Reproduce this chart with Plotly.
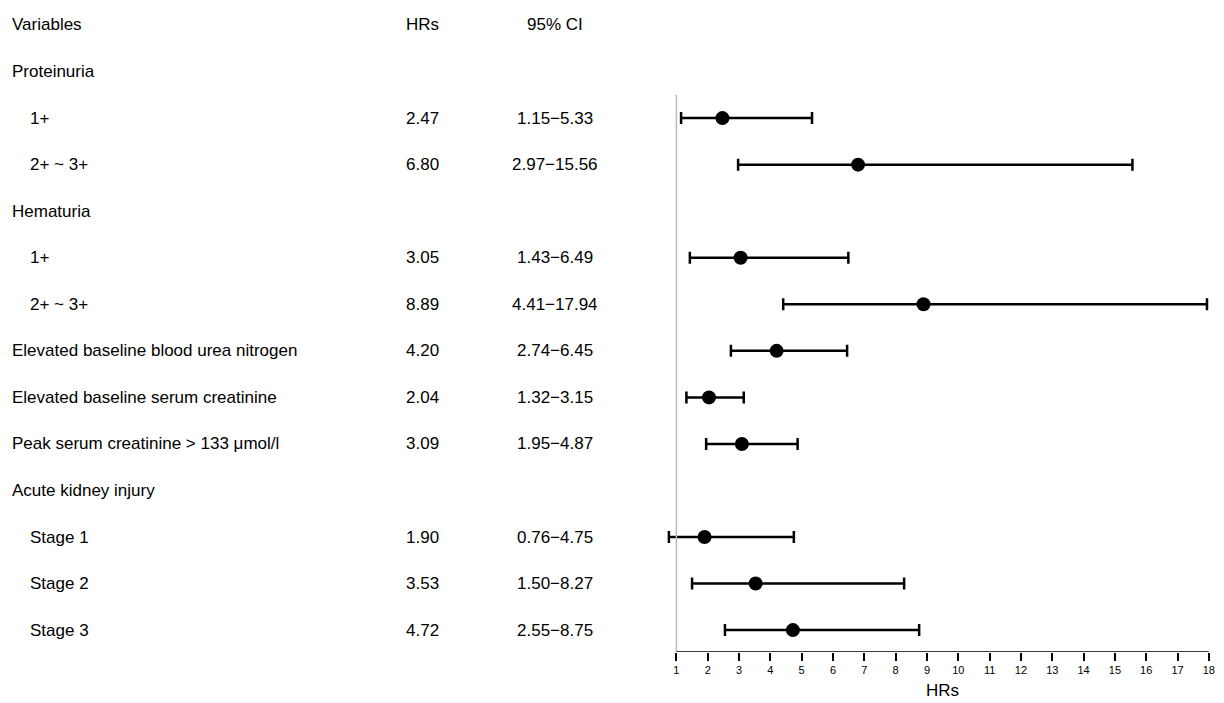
import plotly.graph_objects as go

labels = ["Proteinuria", "1+", "2+ ~ 3+", "Hematuria", "1+", "2+ ~ 3+",
          "Elevated baseline blood urea nitrogen", "Elevated baseline serum creatinine",
          "Peak serum creatinine > 133 μmol/l", "Acute kidney injury",
          "Stage 1", "Stage 2", "Stage 3"]
indent = [False, True, True, False, True, True, False, False, False, False, True, True, True]
hr = [None, 2.47, 6.80, None, 3.05, 8.89, 4.20, 2.04, 3.09, None, 1.90, 3.53, 4.72]
lo = [None, 1.15, 2.97, None, 1.43, 4.41, 2.74, 1.32, 1.95, None, 0.76, 1.50, 2.55]
hi = [None, 5.33, 15.56, None, 6.49, 17.94, 6.45, 3.15, 4.87, None, 4.75, 8.27, 8.75]
ticks = list(range(1, 19))

rows = list(range(1, len(labels) + 1))
px, py, ep, em = [], [], [], []
for r, h, l, u in zip(rows, hr, lo, hi):
    if h is not None:
        px.append(h); py.append(r); ep.append(u - h); em.append(h - l)

fig = go.Figure()
fig.add_trace(go.Scatter(
    x=px, y=py, mode="markers",
    marker=dict(size=14, color="black"),
    error_x=dict(type="data", symmetric=False, array=ep, arrayminus=em,
                 color="black", thickness=2.5, width=6),
    cliponaxis=False, showlegend=False))

font = dict(family="Liberation Sans, Arial", size=17, color="black")
x0 = 658.5
pw = 1216 - 658.5 - 12

def pxp(p):
    return (p - 11 - x0) / pw

ann = [dict(text="Variables", x=pxp(12), y=0, xanchor="left"),
       dict(text="HRs", x=pxp(425), y=0, xanchor="center"),
       dict(text="95% CI", x=pxp(557), y=0, xanchor="center")]
for r, lab, ind, h, l, u in zip(rows, labels, indent, hr, lo, hi):
    ann.append(dict(text=lab, x=pxp(30 if ind else 12), y=r, xanchor="left"))
    if h is not None:
        ann.append(dict(text=f"{h:.2f}", x=pxp(425), y=r, xanchor="center"))
        ann.append(dict(text=f"{l:.2f}\u2212{u:.2f}", x=pxp(557), y=r, xanchor="center"))
for a in ann:
    a.update(xref="paper", yref="y", showarrow=False, font=font, yanchor="middle")
ann.append(dict(text="HRs", xref="x", yref="paper", x=9.5, y=0, yshift=-27,
                showarrow=False, font=dict(family="Liberation Sans, Arial", size=17, color="black"),
                yanchor="top"))

fig.add_shape(type="line", xref="x", yref="y", x0=1, x1=1, y0=1.5, y1=13.47,
              line=dict(color="#bbbbbb", width=1.5))
fig.add_shape(type="line", xref="x", yref="y", x0=1, x1=18, y0=13.47, y1=13.47,
              line=dict(color="black", width=1.5))

fig.update_layout(
    width=1216, height=695, plot_bgcolor="white", paper_bgcolor="white",
    margin=dict(l=658.5, r=12, t=0, b=51),
    annotations=ann,
    xaxis=dict(range=[0.7, 18.1], tickvals=ticks, ticks="outside", ticklen=8,
               tickcolor="black", tickwidth=1.5, showgrid=False, zeroline=False,
               showline=False, tickfont=dict(family="Liberation Sans, Arial", size=11, color="black")),
    yaxis=dict(range=[13.47, -0.365], visible=False),
)
fig.write_html("out.html")
